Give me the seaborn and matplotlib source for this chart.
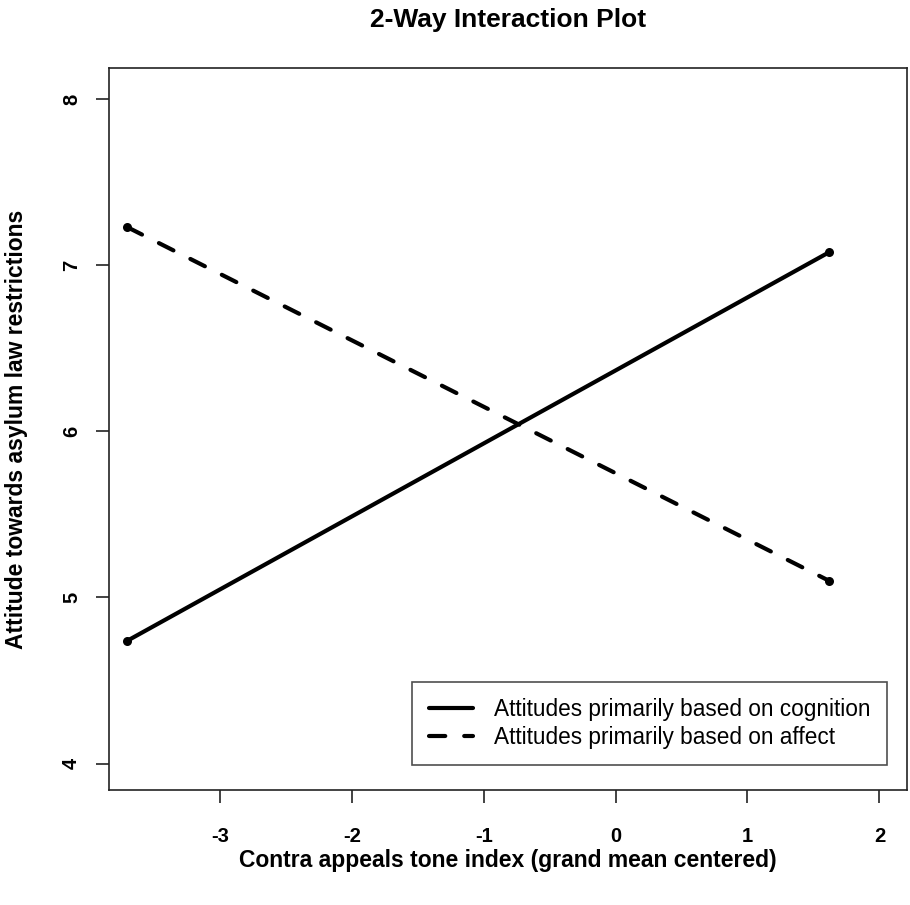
import pandas as pd
import numpy as np
import matplotlib
matplotlib.use('Agg')
import matplotlib.pyplot as plt
import seaborn as sns

sns.set_style('ticks')
plt.rcParams['font.family'] = ['Liberation Sans', 'DejaVu Sans']
plt.rcParams['axes.unicode_minus'] = False
plt.rcParams['text.color'] = 'black'
plt.rcParams['axes.labelcolor'] = 'black'
plt.rcParams['xtick.color'] = 'black'
plt.rcParams['ytick.color'] = 'black'

# values
groups = ['Attitudes primarily based on cognition', 'Attitudes primarily based on affect']
tone = [-3.70, 1.62]
cognition = [4.74, 7.08]
affect = [7.23, 5.10]

df = pd.DataFrame({
    'tone': tone + tone,
    'attitude': cognition + affect,
    'group': [groups[0]] * 2 + [groups[1]] * 2,
})

fig = plt.figure(figsize=(9.1, 9.05), dpi=100)
ax = fig.add_axes([0.1198, 0.127, 0.877, 0.798])

sns.lineplot(data=df, x='tone', y='attitude', style='group', style_order=groups,
             dashes={groups[0]: '', groups[1]: (3.9, 4.55)}, color='black',
             linewidth=3, marker='o', markersize=6.5, markeredgewidth=0, ax=ax)
for ln in ax.get_lines():
    ln.set_dash_capstyle('round')
    ln.set_solid_capstyle('round')

ax.set_xlim(-3.84, 2.21)
ax.set_ylim(3.84, 8.19)
ax.set_xticks([-3, -2, -1, 0, 1, 2])
ax.set_yticks([4, 5, 6, 7, 8])
ax.tick_params(length=9.4, width=1.2, color='#222222', labelcolor='black', labelsize=14.5)
ax.tick_params(axis='x', pad=17)
ax.tick_params(axis='y', pad=10.8)
for lab in ax.get_xticklabels():
    lab.set_fontweight('bold')
for lab in ax.get_yticklabels():
    lab.set_fontweight('bold')
    lab.set_rotation(90)
    lab.set_va('center')
for s in ax.spines.values():
    s.set_color('#222222')
    s.set_linewidth(1.2)

ax.set_xlabel('Contra appeals tone index (grand mean centered)', fontsize=16.5,
              fontweight='bold')
ax.set_ylabel('Attitude towards asylum law restrictions', fontsize=16.5,
              fontweight='bold')
ax.xaxis.label.set_va('center')
ax.yaxis.label.set_va('center')
ax.xaxis.set_label_coords(0.5, -0.098)
ax.yaxis.set_label_coords(-0.116, 0.5)
ax.set_title('2-Way Interaction Plot', fontsize=19, fontweight='bold', pad=29.5,
             color='black')

leg = ax.legend(loc='lower right', bbox_to_anchor=(0.975, 0.0346), borderaxespad=0,
                fontsize=16.3, frameon=True, fancybox=False, edgecolor='#222222',
                handlelength=1.95, borderpad=0.72, labelspacing=0.2, handletextpad=0.95)
leg.get_frame().set_linewidth(1.2)
for t in leg.get_texts():
    t.set_color('black')
for h in leg.get_lines():
    h.set_marker('')

fig.savefig('out.png', dpi=100)
